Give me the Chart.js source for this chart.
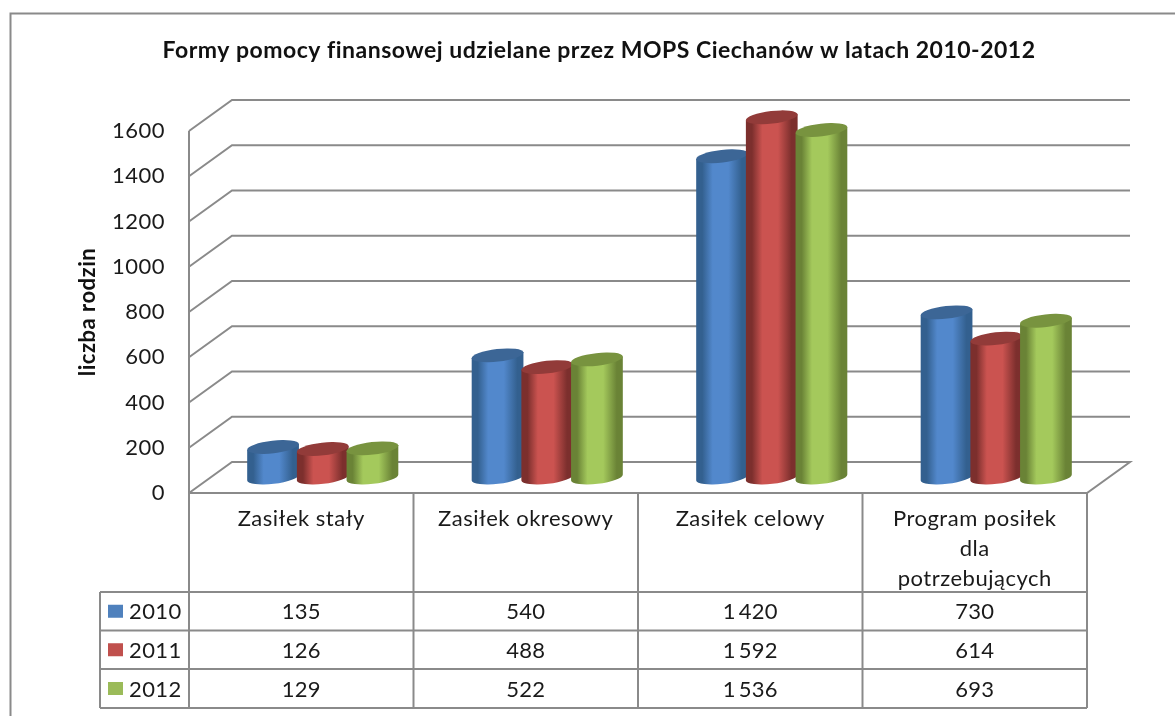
<!DOCTYPE html>
<html><head><meta charset="utf-8">
<style>html,body{margin:0;padding:0;background:#fff}#w{position:relative;width:1175px;height:716px;overflow:hidden}canvas{display:block;filter:blur(0.45px)}</style>
<script src="https://cdn.jsdelivr.net/npm/chart.js@4"></script>
</head><body><div id="w"><canvas id="c" width="1175" height="716"></canvas></div>
<script>
const categories = [["Zasiłek stały"],["Zasiłek okresowy"],["Zasiłek celowy"],["Program posiłek","dla","potrzebujących"]];
const seriesNames = ["2010","2011","2012"];
const values2010 = [135,540,1420,730];
const values2011 = [126,488,1592,614];
const values2012 = [129,522,1536,693];
const tickValues = [0,200,400,600,800,1000,1200,1400,1600];
const colors = ["#4f81bd","#c0504d","#9bbb59"];
const shades = [
 {edge:"#33608f",mid:"#5288cc",cap:"#3c6696"},
 {edge:"#7c2f2d",mid:"#cb5350",cap:"#923b39"},
 {edge:"#6a8336",mid:"#a4c95c",cap:"#78933f"}];
const GRAY="#8a8a8a", FONT="Lato, Carlito, sans-serif", TXT="#1a1a1a";
const DX=43, DY=-31;
const fmt=v=>String(v).replace(/\B(?=(\d{3})+$)/g,"\u2009");

function drawCylinders(ctx,meta,s){
  const rot=-0.115, ry=6.3;
  meta.data.forEach(el=>{
    const rx=el.width/2+1.2, x=el.x, top=el.y, base=el.base;
    const ex=rx*Math.cos(rot), ey=rx*Math.sin(rot);
    const g=ctx.createLinearGradient(x-rx,0,x+rx,0);
    g.addColorStop(0,s.edge);g.addColorStop(0.12,s.edge);g.addColorStop(0.32,s.mid);g.addColorStop(0.62,s.mid);g.addColorStop(0.88,s.edge);g.addColorStop(1,s.edge);
    ctx.beginPath();
    ctx.moveTo(x-ex,top-ey);
    ctx.lineTo(x-ex,base-ey);
    ctx.ellipse(x,base,rx,ry,rot,Math.PI,0,true);
    ctx.lineTo(x+ex,top+ey);
    ctx.closePath();
    ctx.fillStyle=g;ctx.fill();
    ctx.beginPath();
    ctx.ellipse(x,top,rx,ry,rot,0,Math.PI*2);
    ctx.fillStyle=s.cap;ctx.fill();
  });
}
// Bars become cylinders standing mid-way in the floor's depth; later series sit in front.
Chart.BarController.prototype.draw=function(){
  if(this.index!==0) return;
  const chart=this.chart, ctx=chart.ctx;
  ctx.save();
  ctx.translate(DX/2,DY/2);
  seriesNames.forEach((n,i)=>drawCylinders(ctx,chart.getDatasetMeta(i),shades[i]));
  ctx.restore();
};

const wallPlugin={id:"wall",
 beforeDraw(chart){chart.ctx.letterSpacing="0.5px";},
 beforeDatasetsDraw(chart){
  const {ctx,scales:{x,y},chartArea:a}=chart;
  ctx.letterSpacing="0px";
  ctx.save();ctx.strokeStyle=GRAY;ctx.lineWidth=2;ctx.lineCap="butt";
  ctx.strokeRect(10.5,13.5,1300,800);
  ctx.beginPath();ctx.moveTo(a.left,y.getPixelForValue(1600));ctx.lineTo(a.left,a.bottom);ctx.stroke();
  tickValues.forEach(v=>{
    const p=y.getPixelForValue(v);
    ctx.beginPath();ctx.moveTo(a.left,p);ctx.lineTo(a.left+DX,p+DY);ctx.lineTo(a.right+DX,p+DY);
    if(v===0){ctx.lineTo(a.right,p);ctx.lineTo(a.left,p);}
    ctx.stroke();
  });
  const rows=[592,630.5,669,708], left=100;
  rows.forEach(r=>{ctx.beginPath();ctx.moveTo(left,r);ctx.lineTo(a.right,r);ctx.stroke();});
  ctx.beginPath();ctx.moveTo(left,rows[0]);ctx.lineTo(left,rows[3]);ctx.stroke();
  const step=(a.right-a.left)/categories.length;
  for(let i=0;i<=categories.length;i++){const X=a.left+i*step;ctx.beginPath();ctx.moveTo(X,a.bottom);ctx.lineTo(X,rows[3]);ctx.stroke();}
  ctx.textBaseline="middle";ctx.font="22px "+FONT;ctx.fillStyle=TXT;
  [values2010,values2011,values2012].forEach((vals,r)=>{
    const cy=(rows[r]+rows[r+1])/2+1;
    ctx.fillStyle=colors[r];ctx.fillRect(108,cy-7.5,15,13);
    ctx.fillStyle=TXT;ctx.textAlign="left";ctx.letterSpacing="0.4px";ctx.fillText(seriesNames[r],129,cy);
    ctx.textAlign="center";ctx.letterSpacing="0.2px";
    vals.forEach((v,i)=>ctx.fillText(fmt(v),x.getPixelForValue(i),cy));
  });
  ctx.restore();
 }};

new Chart(document.getElementById("c"),{
 type:"bar",
 data:{labels:categories,datasets:[
  {label:seriesNames[0],data:values2010,backgroundColor:colors[0]},
  {label:seriesNames[1],data:values2011,backgroundColor:colors[1]},
  {label:seriesNames[2],data:values2012,backgroundColor:colors[2]}]},
 plugins:[wallPlugin],
 options:{responsive:false,animation:false,
  datasets:{bar:{categoryPercentage:0.664,barPercentage:1,clip:false}},
  layout:{padding:{left:111,right:88,top:0,bottom:0}},
  plugins:{legend:{display:false},tooltip:{enabled:false},
   title:{display:true,text:"Formy pomocy finansowej udzielane przez MOPS Ciechanów w latach 2010-2012",color:"#111",
    font:{family:FONT,size:23,weight:"bold",lineHeight:1.2},padding:{top:36.5,bottom:66.9}}},
  scales:{
   x:{grid:{display:false,drawTicks:false},border:{display:false},
      afterFit(s){s.height=223;},
      ticks:{autoSkip:false,maxRotation:0,minRotation:0,padding:11,color:TXT,font:{family:FONT,size:22,lineHeight:1.36}}},
   y:{min:0,max:1600,grid:{display:false,drawTicks:false},border:{display:false},
      afterFit(s){s.width=78;},
      afterBuildTicks(s){s.ticks=tickValues.map(v=>({value:v}));},
      ticks:{padding:24,color:TXT,font:{family:FONT,size:22},callback:v=>String(v)},
      title:{display:true,text:"liczba rodzin",color:"#111",font:{family:FONT,size:22,weight:"bold",lineHeight:1},padding:{top:-34,bottom:0}}}
  }}
});
</script></body></html>
